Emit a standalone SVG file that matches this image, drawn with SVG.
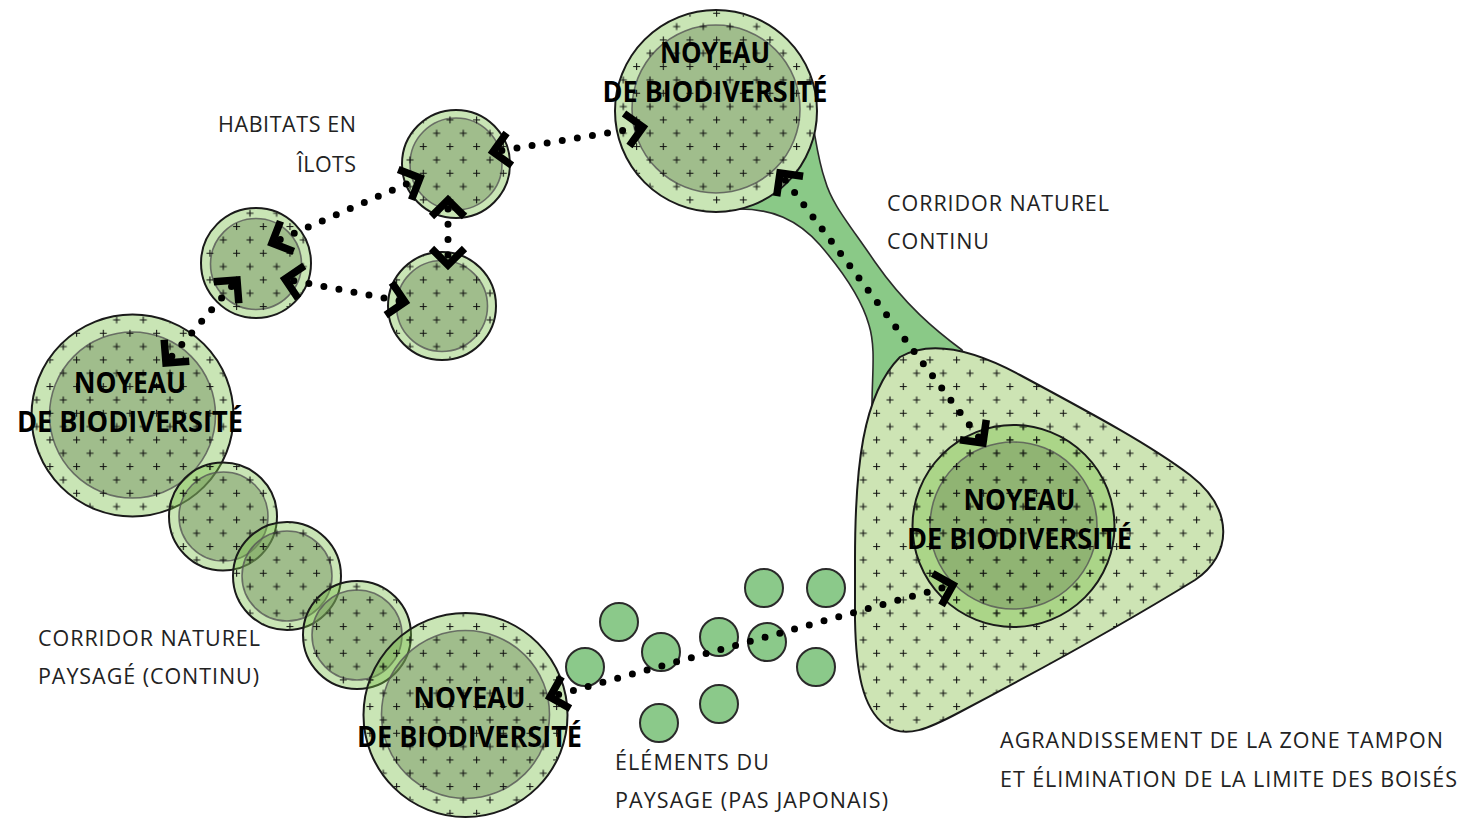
<svg xmlns="http://www.w3.org/2000/svg" width="1463" height="819" viewBox="0 0 1463 819">
<defs>
<pattern id="plus" patternUnits="userSpaceOnUse" x="19.8" y="9.8" width="26.667" height="26.667">
<path d="M0,3.5h7M3.5,0v7M13.33,16.83h7M16.83,13.33v7" stroke="#111" stroke-width="1.1" fill="none"/>
</pattern>
<marker id="chev" viewBox="-26 -24 34 48" markerWidth="34" markerHeight="48" refX="0" refY="0" markerUnits="userSpaceOnUse" orient="auto-start-reverse" overflow="visible">
<path d="M-16.5,-16.5 L0,0 L-16.5,16.5" fill="none" stroke="#000" stroke-width="7.5" stroke-linejoin="miter"/>
</marker>
</defs>
<style>
.under{fill:#fff}
.ring{fill:rgb(120,190,70);fill-opacity:.4;stroke:#1a1a1a;stroke-width:2}
.inner{fill:rgb(110,140,90);fill-opacity:.45;stroke:#555;stroke-opacity:.8;stroke-width:1.6}
.pat{fill:url(#plus);stroke:none}
.stone{fill:#8bc98a;stroke:#2a2a2a;stroke-width:2}
.core{font-family:"Open Sans","Liberation Sans",sans-serif;font-weight:700;font-size:29px;fill:#000;text-anchor:middle}
.lbl{font-family:"Open Sans","Liberation Sans",sans-serif;font-size:21.5px;fill:#222}
.dots{fill:none;stroke:#000;stroke-width:7;stroke-linecap:round;stroke-dasharray:0 15.3;stroke-dashoffset:6.3;marker-start:url(#chev);marker-end:url(#chev)}
</style>
<rect width="1463" height="819" fill="#fff"/>

<g id="corridor-continu">
<path d="M735 209 C772 208 798 220 820 245 C845 274 862 300 869 325 C876 348 872 375 872 405 L980 405 L962 350 C935 330 905 305 875 262 C850 225 832 205 825 180 C818 160 816 140 812 120 Z" fill="#8ac987" stroke="#2a2a2a" stroke-width="1.6"/>
</g>

<g id="zone-tampon">
<path d="M855 560 C855 470 862 395 900 357 C930 340 970 348 1020 375 C1100 418 1150 445 1190 475 C1235 510 1232 555 1195 580 C1130 620 1040 670 960 712 C930 728 905 740 885 725 C862 708 856 670 855 620 Z" fill="#cde4b4" stroke="#1a1a1a" stroke-width="2"/>
<path d="M855 560 C855 470 862 395 900 357 C930 340 970 348 1020 375 C1100 418 1150 445 1190 475 C1235 510 1232 555 1195 580 C1130 620 1040 670 960 712 C930 728 905 740 885 725 C862 708 856 670 855 620 Z" class="pat"/>
</g>

<g id="stone-1"><circle class="stone" cx="619" cy="622" r="19"/></g>
<g id="stone-2"><circle class="stone" cx="585" cy="667" r="19"/></g>
<g id="stone-3"><circle class="stone" cx="661" cy="652" r="19"/></g>
<g id="stone-4"><circle class="stone" cx="719" cy="637" r="19"/></g>
<g id="stone-5"><circle class="stone" cx="764" cy="588" r="19"/></g>
<g id="stone-6"><circle class="stone" cx="826" cy="588" r="19"/></g>
<g id="stone-7"><circle class="stone" cx="767" cy="642" r="19"/></g>
<g id="stone-8"><circle class="stone" cx="816" cy="667" r="19"/></g>
<g id="stone-9"><circle class="stone" cx="719" cy="704" r="19"/></g>
<g id="stone-10"><circle class="stone" cx="659" cy="723" r="19"/></g>

<g id="core-top">
<circle class="under" cx="716" cy="111" r="101"/>
<circle class="ring" cx="716" cy="111" r="101"/>
<circle class="inner" cx="716" cy="109" r="84"/>
<circle class="pat" cx="716" cy="111" r="100"/>
<text class="core" x="715" y="63" textLength="110" lengthAdjust="spacingAndGlyphs">NOYEAU</text>
<text class="core" x="715" y="102" textLength="225" lengthAdjust="spacingAndGlyphs">DE BIODIVERSITÉ</text>
</g>

<g id="habitat-a">
<circle class="ring" cx="456" cy="164" r="54"/>
<circle class="inner" cx="456" cy="164" r="46"/>
<circle class="pat" cx="456" cy="164" r="53"/>
</g>
<g id="habitat-b">
<circle class="ring" cx="442" cy="306" r="54"/>
<circle class="inner" cx="442" cy="306" r="45.5"/>
<circle class="pat" cx="442" cy="306" r="53"/>
</g>
<g id="habitat-c">
<circle class="ring" cx="256" cy="263" r="55"/>
<circle class="inner" cx="256" cy="264" r="45.5"/>
<circle class="pat" cx="256" cy="263" r="54"/>
</g>

<g id="core-left">
<circle class="ring" cx="132.5" cy="415.5" r="101"/>
<circle class="inner" cx="132.5" cy="415" r="83"/>
<circle class="pat" cx="132.5" cy="415.5" r="100"/>
<text class="core" x="130" y="393" textLength="112" lengthAdjust="spacingAndGlyphs">NOYEAU</text>
<text class="core" x="130" y="432" textLength="226" lengthAdjust="spacingAndGlyphs">DE BIODIVERSITÉ</text>
</g>

<g id="corridor-circle-1">
<circle class="ring" cx="223" cy="516.5" r="54"/>
<circle class="inner" cx="223.5" cy="516.5" r="44.5"/>
<circle class="pat" cx="223" cy="516.5" r="53"/>
</g>
<g id="corridor-circle-2">
<circle class="ring" cx="287" cy="576" r="54"/>
<circle class="inner" cx="287" cy="576" r="45"/>
<circle class="pat" cx="287" cy="576" r="53"/>
</g>
<g id="corridor-circle-3">
<circle class="ring" cx="357" cy="635" r="54"/>
<circle class="inner" cx="357" cy="635" r="45"/>
<circle class="pat" cx="357" cy="635" r="53"/>
</g>

<g id="core-bottom-left">
<circle class="ring" cx="465.5" cy="715" r="102"/>
<circle class="inner" cx="465.5" cy="714.5" r="84"/>
<circle class="pat" cx="465.5" cy="715" r="101"/>
<text class="core" x="469.5" y="708" textLength="112" lengthAdjust="spacingAndGlyphs">NOYEAU</text>
<text class="core" x="469.5" y="747" textLength="225" lengthAdjust="spacingAndGlyphs">DE BIODIVERSITÉ</text>
</g>

<g id="core-bottom-right">
<circle class="ring" cx="1013.5" cy="526" r="101"/>
<circle class="inner" cx="1013.5" cy="525.5" r="83.5"/>
<circle class="pat" cx="1013.5" cy="526" r="100"/>
<text class="core" x="1019.5" y="510" textLength="112" lengthAdjust="spacingAndGlyphs">NOYEAU</text>
<text class="core" x="1019.5" y="549" textLength="225" lengthAdjust="spacingAndGlyphs">DE BIODIVERSITÉ</text>
</g>

<g id="connectors">
<path class="dots" d="M493 152 L643 127"/>
<path class="dots" d="M272 243 L420 178"/>
<path class="dots" d="M448 200 L448 265"/>
<path class="dots" d="M285 279 L405 302"/>
<path class="dots" d="M166 363 L237 280"/>
<path class="dots" d="M780 173 L983 443"/>
<path class="dots" d="M550 697 L953 585"/>
</g>

<g id="label-habitats">
<text class="lbl" x="218" y="132" textLength="138">HABITATS EN</text>
<text class="lbl" x="297" y="171.5" textLength="59">ÎLOTS</text>
</g>
<g id="label-corridor-continu">
<text class="lbl" x="887" y="211" textLength="222">CORRIDOR NATUREL</text>
<text class="lbl" x="887" y="249" textLength="102">CONTINU</text>
</g>
<g id="label-corridor-paysage">
<text class="lbl" x="38" y="646" textLength="222">CORRIDOR NATUREL</text>
<text class="lbl" x="38" y="684" textLength="221">PAYSAGÉ (CONTINU)</text>
</g>
<g id="label-elements">
<text class="lbl" x="615" y="770" textLength="154">ÉLÉMENTS DU</text>
<text class="lbl" x="615" y="808" textLength="273">PAYSAGE (PAS JAPONAIS)</text>
</g>
<g id="label-zone">
<text class="lbl" x="1000" y="748" textLength="443">AGRANDISSEMENT DE LA ZONE TAMPON</text>
<text class="lbl" x="1000" y="787" textLength="457">ET ÉLIMINATION DE LA LIMITE DES BOISÉS</text>
</g>
</svg>
